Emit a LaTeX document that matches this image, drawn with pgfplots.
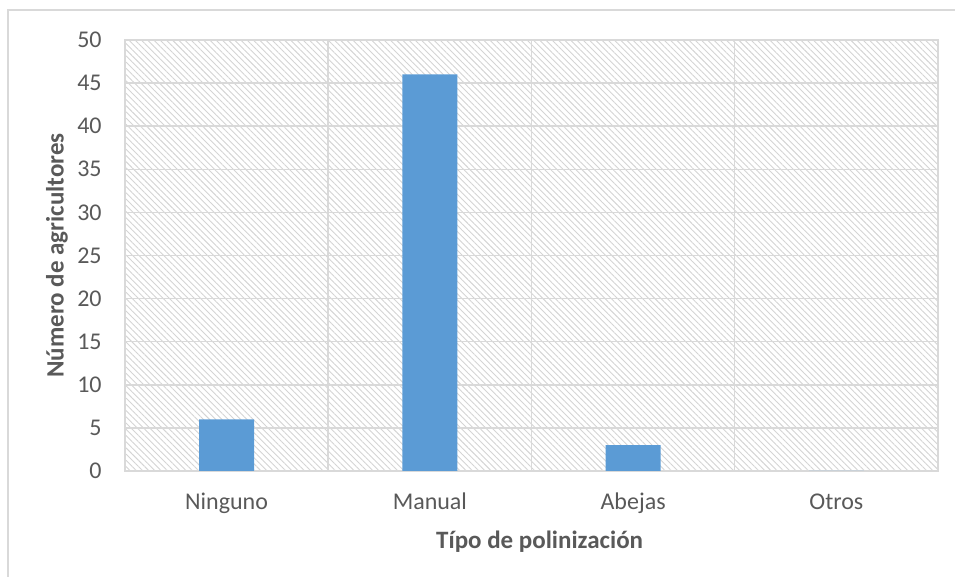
\documentclass[border=0pt]{standalone}
\usepackage{fontspec}
\setmainfont{Carlito}
\usepackage{pgfplots}
\pgfplotsset{compat=1.18}
\usetikzlibrary{patterns.meta}
\definecolor{barblue}{HTML}{5B9BD5}
\definecolor{gridgray}{HTML}{D9D9D9}
\definecolor{hatchgray}{HTML}{D4D4D4}
\definecolor{textgray}{HTML}{595959}
\begin{document}
\begin{tikzpicture}
\useasboundingbox (0,0) rectangle (477.5pt,288.5pt);
\draw[gridgray, line width=0.75pt] (4pt,0) -- (4pt,283.5pt) -- (477.5pt,283.5pt);
\begin{axis}[
  at={(62.5pt,53pt)}, anchor=south west,
  scale only axis, width=406.5pt, height=215.5pt,
  xmin=-0.5, xmax=3.5, ymin=0, ymax=50,
  xtick={0,1,2,3},
  xticklabels={Ninguno,Manual,Abejas,Otros},
  minor xtick={-0.5,0.5,1.5,2.5,3.5},
  ytick={0,5,...,50},
  major tick length=0pt, minor tick length=0pt,
  ymajorgrids, xminorgrids,
  grid style={gridgray, line width=0.75pt},
  minor grid style={gridgray, line width=0.75pt},
  axis line style={gridgray, line width=0.75pt},
  axis background/.style={pattern={Lines[angle=-45,distance=2.2pt,line width=0.45pt]}, pattern color=hatchgray},
  /pgf/number format/assume math mode=true,
  tick label style={font=\fontsize{12}{14}\selectfont, text=textgray},
  yticklabel style={inner sep=0pt, xshift=-11.5pt, anchor=east},
  xticklabel style={inner sep=0pt, text height=8.5pt, text depth=2.5pt, yshift=-10.5pt, anchor=north},
  xlabel={\textbf{Típo de polinización}},
  ylabel={\textbf{Número de agricultores}},
  label style={font=\fontsize{12.5}{15}\selectfont, text=textgray},
  xlabel style={at={(axis description cs:0.51,-0.1647)}, anchor=center, inner sep=0pt},
  ylabel style={at={(axis description cs:-0.0836,0.5)}, anchor=center, inner sep=0pt},
  ybar, bar width=0.27,
  clip=false,
]
\addplot[fill=barblue, draw=none] coordinates {(0,6) (1,46) (2,3) (3,0)};
\end{axis}
\end{tikzpicture}
\end{document}
